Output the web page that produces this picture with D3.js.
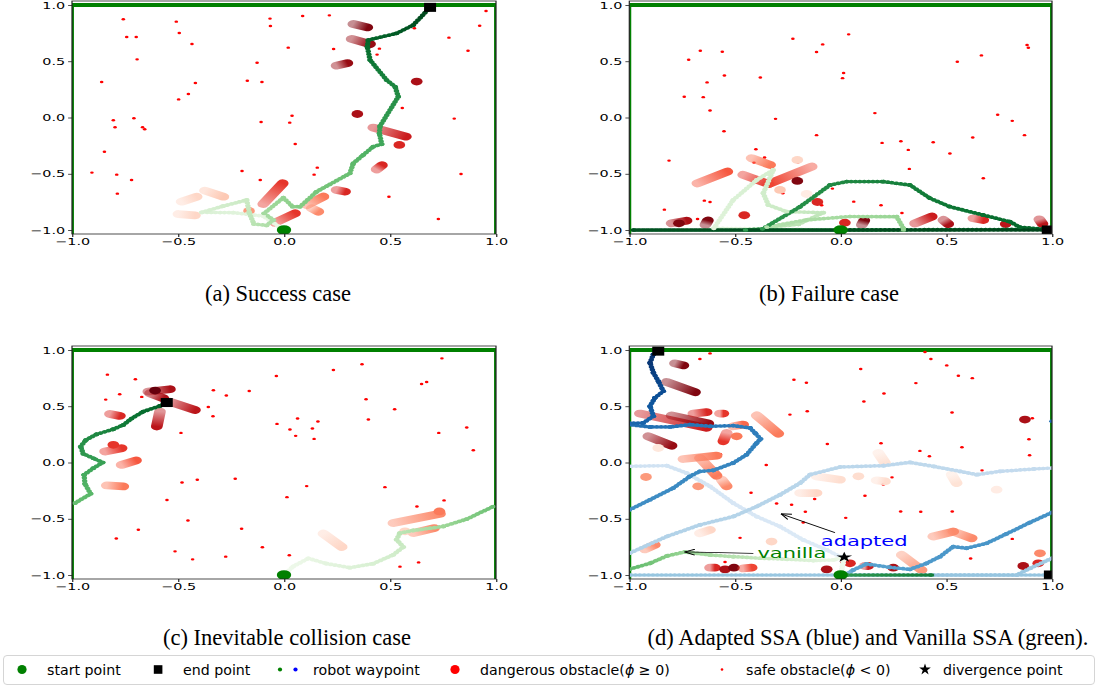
<!DOCTYPE html>
<html><head><meta charset="utf-8">
<script src="https://cdn.jsdelivr.net/npm/d3@7"></script>
<style>body{margin:0;background:#fff;} svg{display:block;}</style>
</head><body>
<svg id="c" width="1098" height="687"></svg>
<script>
// ---------------- DATA ----------------
const xTicks = [-1, -0.5, 0, 0.5, 1];
const yTicks = [-1, -0.5, 0, 0.5, 1];
const captions = ["(a) Success case", "(b) Failure case", "(c) Inevitable collision case", "(d) Adapted SSA (blue) and Vanilla SSA (green)."];
const legendLabels = ["start point", "end point", "robot waypoint", "dangerous obstacle(", "safe obstacle(", "divergence point"];

// safe obstacles [x, y]
const safeA = [[-0.758,0.873],[-0.508,0.852],[-0.066,0.879],[0.088,0.902],[0.214,0.908],[0.953,0.947],[0.923,0.816],[0.615,0.793],[-0.742,0.716],[-0.697,0.716],[-0.494,0.751],[-0.064,0.813],[-0.434,0.653],[0.020,0.621],[0.234,0.609],[0.450,0.612],[0.778,0.710],[0.868,0.594],[0.439,0.559],[-0.693,0.517],[-0.127,0.487],[-0.860,0.316],[-0.418,0.307],[-0.173,0.327],[-0.104,0.316],[-0.451,0.209],[-0.497,0.161],[0.558,0.084],[-0.805,-0.025],[-0.708,-0.007],[-0.797,-0.087],[-0.667,-0.087],[-0.657,-0.105],[0.038,0.016],[-0.108,-0.040],[0.027,-0.046],[0.803,-0.010],[0.053,-0.236],[-0.847,-0.304],[-0.906,-0.490],[-0.789,-0.508],[-0.198,-0.476],[0.157,-0.446],[0.142,-0.508],[0.835,-0.502],[-0.719,-0.556],[-0.112,-0.556],[-0.786,-0.677],[0.495,-0.704],[0.728,-0.902]];
const safeB = [[0.038,0.739],[-0.226,0.700],[-0.085,0.650],[-0.664,0.593],[-0.560,0.585],[-0.114,0.582],[-0.719,0.513],[0.552,0.496],[0.666,0.552],[0.882,0.644],[0.888,0.620],[-0.550,0.374],[0.014,0.395],[0.009,0.350],[-0.380,0.356],[-0.632,0.312],[-0.740,0.184],[-0.650,0.181],[-0.618,0.062],[-0.308,-0.012],[0.162,0.039],[0.743,0.024],[0.812,-0.030],[-0.552,-0.122],[-0.114,-0.157],[0.625,-0.178],[0.870,-0.157],[0.196,-0.226],[0.285,-0.211],[0.320,-0.288],[0.438,-0.220],[0.517,-0.320],[-0.401,-0.282],[-0.360,-0.356],[-0.812,-0.383],[-0.202,-0.398],[0.325,-0.457],[0.675,-0.540],[-0.274,-0.674],[-0.039,-0.632],[-0.090,-0.780],[-0.645,-0.739],[-0.618,-0.751],[0.062,-0.748],[0.191,-0.780],[-0.834,-0.819],[-0.677,-0.902],[0.290,-0.849],[-0.410,-0.401]];
const safeC = [[0.745,0.926],[0.368,0.873],[0.233,0.822],[-0.833,0.781],[-0.701,0.740],[-0.036,0.769],[0.673,0.716],[0.649,0.698],[-0.775,0.607],[-0.841,0.559],[-0.671,0.583],[-0.333,0.642],[-0.272,0.595],[-0.164,0.636],[0.387,0.562],[0.522,0.473],[-0.357,0.494],[-0.335,0.411],[0.064,0.391],[0.160,0.364],[0.398,0.382],[-0.033,0.343],[0.134,0.302],[0.028,0.293],[0.730,0.263],[0.862,0.311],[0.055,0.237],[0.142,0.210],[-0.486,0.263],[0.893,0.109],[-0.409,-0.154],[-0.230,-0.145],[-0.481,-0.178],[0.107,-0.210],[0.476,-0.219],[0.014,-0.308],[-0.552,-0.334],[0.755,-0.337],[0.627,-0.391],[-0.453,-0.515],[-0.687,-0.598],[-0.200,-0.589],[-0.791,-0.675],[-0.102,-0.754],[-0.514,-0.790],[-0.275,-0.837],[0.025,-0.825],[-0.431,-0.861],[0.635,-0.888],[0.547,-0.926]];
const safeD = [[-0.618,0.970],[-0.666,0.920],[0.399,0.982],[0.427,0.920],[0.502,0.863],[0.095,0.831],[0.557,0.771],[0.623,0.750],[-0.221,0.736],[-0.162,0.709],[0.356,0.706],[0.205,0.614],[0.110,0.542],[-0.158,0.456],[-0.240,0.426],[0.527,0.444],[0.907,0.394],[0.891,0.207],[0.894,0.064],[0.574,0.135],[0.375,0.103],[0.420,0.055],[0.191,0.171],[-0.063,0.165],[-0.569,0.073],[-0.352,-0.022],[0.669,-0.070],[0.243,-0.132],[0.202,-0.195],[-0.424,-0.269],[0.115,-0.296],[-0.123,-0.325],[-0.303,-0.364],[-0.232,-0.376],[-0.167,-0.438],[0.024,-0.492],[0.284,-0.435],[0.379,-0.438],[0.528,-0.435],[-0.177,-0.533],[-0.476,-0.670],[0.789,-0.634],[0.812,-0.679],[0.615,-0.854],[-0.547,-0.884],[0.006,-0.890]];

// dangerous obstacle trails [x_old, y_old, x_new, y_new, phiLevel]
const dangerA = [[0.327,0.831,0.393,0.801,0.95],[0.319,0.698,0.406,0.653,0.9],[0.248,0.461,0.299,0.484,0.9],[0.626,0.319,0.626,0.319,0.85],[0.346,0.031,0.346,0.031,0.85],[0.421,-0.090,0.575,-0.170,0.75],[0.544,-0.244,0.544,-0.244,0.7],[0.437,-0.461,0.462,-0.425,0.7],[0.248,-0.644,0.288,-0.659,0.7],[-0.098,-0.769,-0.006,-0.585,0.65],[-0.042,-0.935,0.052,-0.852,0.65],[0.107,-0.778,0.186,-0.704,0.45],[0.131,-0.807,0.162,-0.837,0.4],[-0.165,-0.831,-0.165,-0.831,0.35],[-0.373,-0.650,-0.286,-0.704,0.2],[-0.483,-0.748,-0.412,-0.704,0.15],[-0.498,-0.858,-0.420,-0.870,0.15]];
const dangerB = [[-0.461,-0.510,-0.342,-0.591,0.65],[-0.137,-0.436,-0.334,-0.585,0.6],[-0.421,-0.362,-0.334,-0.421,0.45],[-0.678,-0.585,-0.536,-0.481,0.55],[-0.205,-0.564,-0.205,-0.564,0.95],[-0.205,-0.377,-0.205,-0.377,0.15],[-0.287,-0.644,-0.287,-0.644,0.2],[-0.161,-0.680,-0.161,-0.680,0.05],[-0.110,-0.751,-0.110,-0.751,0.7],[-0.456,-0.869,-0.456,-0.869,0.7],[-0.800,-0.941,-0.729,-0.917,0.85],[-0.765,-0.941,-0.765,-0.941,0.95],[-0.640,-0.955,-0.628,-0.915,0.95],[0.020,-0.935,0.020,-0.935,0.7],[0.100,-0.955,0.112,-0.915,0.95],[0.352,-0.941,0.431,-0.881,0.75],[0.486,-0.911,0.509,-0.947,0.85],[0.628,-0.896,0.675,-0.911,0.7],[0.781,-0.947,0.781,-0.947,0.8],[0.940,-0.905,0.955,-0.945,0.8]];
const dangerC = [[-0.640,0.630,-0.538,0.651,0.85],[-0.632,0.615,-0.569,0.571,0.85],[-0.608,0.639,-0.608,0.639,1.0],[-0.538,0.541,-0.420,0.467,0.8],[-0.585,0.453,-0.600,0.320,0.8],[-0.821,0.432,-0.774,0.414,0.7],[-0.844,0.098,-0.766,0.127,0.65],[-0.805,0.157,-0.805,0.157,0.65],[-0.766,-0.021,-0.698,0.018,0.55],[-0.836,-0.204,-0.758,-0.213,0.45],[0.516,-0.538,0.736,-0.456,0.4],[0.733,-0.435,0.733,-0.435,0.45],[0.610,-0.627,0.708,-0.583,0.4],[0.571,-0.612,0.571,-0.612,0.15],[0.186,-0.633,0.272,-0.751,0.15]];
const dangerD = [[-0.784,0.881,-0.744,0.863,0.95],[-0.823,0.715,-0.689,0.626,0.95],[-0.950,0.435,-0.634,0.308,0.75],[-0.800,0.418,-0.626,0.346,0.9],[-0.697,0.435,-0.634,0.447,0.7],[-0.571,0.435,-0.555,0.435,0.65],[-0.508,0.322,-0.461,0.337,0.5],[-0.539,0.263,-0.555,0.189,0.65],[-0.492,0.233,-0.492,0.233,0.45],[-0.397,0.418,-0.295,0.257,0.45],[-0.910,0.233,-0.800,0.150,0.9],[-0.863,0.129,-0.863,0.129,0.08],[-0.744,0.031,-0.587,0.061,0.45],[-0.666,0.040,-0.587,-0.117,0.45],[-0.563,-0.153,-0.539,-0.212,0.4],[-0.674,-0.212,-0.674,-0.212,0.35],[-0.921,-0.129,-0.921,-0.129,0.35],[-0.926,-0.771,-0.879,-0.732,0.4],[-0.666,-0.629,-0.618,-0.599,0.15],[-0.327,-0.703,-0.327,-0.703,0.15],[-0.192,-0.272,-0.114,-0.272,0.15],[-0.114,-0.123,-0.003,-0.153,0.12],[0.084,-0.123,0.084,-0.123,0.12],[0.170,-0.159,0.210,-0.168,0.12],[0.178,0.085,0.210,-0.004,0.1],[0.525,-0.108,0.549,-0.183,0.1],[0.738,-0.242,0.738,-0.242,0.05],[0.438,-0.658,0.533,-0.614,0.4],[0.533,-0.614,0.620,-0.673,0.4],[0.289,-0.822,0.383,-0.956,0.35],[0.943,-0.807,0.943,-0.807,0.4],[0.864,-0.920,0.864,-0.920,0.85],[0.935,-0.896,0.935,-0.896,0.7],[0.872,0.382,0.872,0.382,0.85],[-0.618,-0.935,-0.595,-0.935,0.7],[-0.547,-0.950,-0.547,-0.950,0.85],[-0.505,-0.935,-0.505,-0.935,0.95],[-0.461,-0.941,-0.421,-0.935,0.6],[-0.066,-0.950,-0.066,-0.950,0.85],[0.044,-0.896,0.044,-0.896,0.7],[0.115,-0.920,0.130,-0.920,0.75],[0.249,-0.935,0.249,-0.935,0.85]];

// robot waypoints [x, y, step]; null = robot passed through a side boundary (no connecting line)
const trajA = [[0,-1,0],[-0.098,-0.876,3],[-0.239,-0.846,6],[-0.388,-0.843,9],[-0.286,-0.787,12],[-0.176,-0.733,15],[-0.163,-0.852,18],[-0.142,-0.947,21],[-0.082,-0.959,24],[-0.05,-0.911,26],[-0.094,-0.852,28],[-0.003,-0.713,32],[0.041,-0.793,35],[0.075,-0.793,37],[0.154,-0.659,40],[0.311,-0.496,44],[0.327,-0.407,47],[0.374,-0.333,50],[0.421,-0.259,53],[0.461,-0.236,55],[0.45,-0.141,57],[0.453,-0.076,59],[0.539,0.185,66],[0.524,0.274,68],[0.484,0.333,70],[0.406,0.511,75],[0.393,0.63,78],[0.398,0.689,80],[0.531,0.748,84],[0.61,0.822,87],[0.689,0.979,91]];
const trajB = [[0,-1,0],[-0.6,-0.985,8],[-0.508,-0.733,12],[-0.397,-0.555,15],[-0.319,-0.466,17],[-0.366,-0.674,20],[-0.342,-0.778,22],[-0.255,-0.837,25],[-0.082,-0.846,30],[-0.2,-0.95,35],[-0.35,-0.975,40],[-0.161,-0.911,45],[0.044,-0.88,50],[0.265,-0.882,56],[0.297,-0.985,60],[0.297,-1,61],[-0.45,-1,110],[-0.37,-0.99,115],[-0.192,-0.793,120],[-0.05,-0.6,124],[0.029,-0.57,126],[0.202,-0.57,130],[0.328,-0.6,133],[0.423,-0.718,136],[0.517,-0.793,139],[0.675,-0.867,143],[0.801,-0.926,146],[0.849,-0.976,148],[0.975,-0.994,150],[0.0,-1,156],[-0.98,-1,162],[0.0,-1,166],[0.98,-1,170]];
const trajC = [[0,-1,0],[0.044,-0.923,3],[0.115,-0.852,6],[0.201,-0.899,9],[0.311,-0.935,12],[0.421,-0.899,15],[0.516,-0.82,18],[0.563,-0.751,21],[0.531,-0.686,24],[0.547,-0.627,27],[0.61,-0.604,30],[0.752,-0.568,38],[0.862,-0.503,45],[0.987,-0.391,52],null,[-0.986,-0.361,54],[-0.912,-0.278,58],[-0.939,-0.189,61],[-0.943,-0.109,64],[-0.899,-0.05,67],[-0.855,0.0,69],[-0.899,0.038,71],[-0.947,0.077,73],[-0.959,0.142,75],[-0.934,0.201,77],[-0.884,0.251,80],[-0.805,0.296,83],[-0.758,0.334,85],[-0.719,0.391,88],[-0.664,0.453,91],[-0.585,0.503,95],[-0.557,0.533,97]];
const trajDAdapted = [[0,-1,0],[0.017,-0.842,2],[-0.003,-0.837,4],[-0.066,-0.777,6],[-0.177,-0.688,8],[-0.287,-0.569,10],[-0.397,-0.48,12],[-0.508,-0.361,14],[-0.618,-0.212,16],[-0.729,-0.094,18],[-0.823,-0.028,20],[-1.0,-0.034,22],null,
 [1.0,-0.049,32],[0.912,-0.058,33],[0.754,-0.079,34],[0.644,-0.108,35],[0.565,-0.079,36],[0.438,-0.034,37],[0.328,0.001,38],[0.202,-0.028,39],[-0.003,-0.04,40],[-0.145,-0.108,41],[-0.192,-0.183,42],[-0.287,-0.287,43],[-0.397,-0.391,44],[-0.508,-0.48,45],[-0.666,-0.554,46],[-0.823,-0.658,47],[-1.0,-0.807,48],null,
 [1.0,-0.851,58],[0.896,-0.941,60],[0.833,-1.0,62],[0.0,-1.0,63],[-1.0,-1.0,64],null,[1.0,-1.0,65],[0.02,-1.0,66],
 [0.06,-0.955,100],[0.123,-0.902,102],[0.233,-0.932,104],[0.328,-0.95,106],[0.407,-0.896,108],[0.47,-0.837,110],[0.533,-0.747,111],[0.596,-0.762,112],[0.691,-0.718,113],[0.785,-0.634,114],[0.896,-0.533,115],[1.0,-0.444,116],null,
 [-1.0,-0.421,118],[-0.902,-0.331,120],[-0.792,-0.227,122],[-0.713,-0.123,124],[-0.666,-0.079,125],[-0.603,-0.07,126],[-0.508,-0.004,128],[-0.445,0.07,130],[-0.397,0.174,132],[-0.379,0.21,133],[-0.405,0.263,134],[-0.429,0.308,135],[-0.508,0.328,137],[-0.618,0.322,139],[-0.713,0.337,141],[-0.808,0.316,143],[-0.902,0.316,145],[-1.0,0.337,147],null,
 [1.0,0.367,150],null,[-1.0,0.35,152],[-0.934,0.352,156],[-0.886,0.412,160],[-0.902,0.501,166],[-0.879,0.575,172],[-0.839,0.634,176],[-0.863,0.724,182],[-0.886,0.798,188],[-0.902,0.887,194],[-0.886,0.961,198],[-0.863,0.991,200]];
const trajDVanilla = [[0,-1,0],[0.017,-0.842,5],[-0.035,-0.866,10],[-0.129,-0.872,20],[-0.256,-0.86,30],[-0.382,-0.851,40],[-0.508,-0.837,50],[-0.618,-0.822,60],[-0.737,-0.795,70],[-0.823,-0.831,80],[-0.902,-0.896,90],[-1.0,-0.949,100],null,[0.03,-1,130],[0.43,-1,150]];

const startA = [[0,-1]], startB = [[0,-1]], startC = [[0,-1]], startD = [[0,-1]];
const endA = [[0.689,0.979]], endB = [[0.98,-1]], endC = [[-0.553,0.533]], endD = [[-0.863,0.99],[0.99,-1]];
const divergenceD = [[0.017,-0.842]];

// ---------------- DRAWING ----------------
const svg = d3.select('#c');
const defs = svg.append('defs');
const SX = 1.5;          // horizontal stretch of the embedded subplot images
const YLIM = 1.0356;
let gid = 0;

defs.append('marker').attr('id','arrowHead').attr('viewBox','0 0 10 10').attr('refX',9.5).attr('refY',5)
  .attr('markerUnits','userSpaceOnUse').attr('markerWidth',7).attr('markerHeight',7).attr('orient','auto')
  .append('path').attr('d','M0,0.8 L9.5,5 L0,9.2').attr('fill','none').attr('stroke','#000').attr('stroke-width',1.3);

const panels = [
  {x:72, y:1, w:424, h:233, safe:safeA, danger:dangerA, trajs:[{pts:trajA, cmap:d3.interpolateGreens, lo:0.08, hi:1.0}], starts:startA, ends:endA},
  {x:629.3, y:1, w:422.7, h:233, safe:safeB, danger:dangerB, trajs:[{pts:trajB, cmap:d3.interpolateGreens, lo:0.1, hi:1.0}], starts:startB, ends:endB},
  {x:72, y:346, w:424, h:233, safe:safeC, danger:dangerC, trajs:[{pts:trajC, cmap:d3.interpolateGreens, lo:0.04, hi:0.92}], starts:startC, ends:endC},
  {x:629.3, y:346, w:422.7, h:233, safe:safeD, danger:dangerD, trajs:[{pts:trajDAdapted, cmap:d3.interpolateBlues, lo:0.1, hi:1.0},{pts:trajDVanilla, cmap:d3.interpolateGreens, lo:0.05, hi:0.8}], starts:startD, ends:endD, stars:divergenceD, annot:true}
];

panels.forEach((p, idx) => {
  const iw = p.w / SX, ih = p.h;
  const x = d3.scaleLinear().domain([-1, 1]).range([0, iw]);
  const y = d3.scaleLinear().domain([-YLIM, YLIM]).range([ih, 0]);
  const g = svg.append('g').attr('transform', `translate(${p.x},${p.y}) scale(${SX},1)`);
  const cid = 'clip' + idx;
  defs.append('clipPath').attr('id', cid).append('rect').attr('width', iw).attr('height', ih);
  const pg = g.append('g').attr('clip-path', `url(#${cid})`);

  // environment boundary
  const bnd = pg.append('g').attr('stroke', '#008000').attr('fill', 'none');
  bnd.append('line').attr('x1', x(-1)).attr('x2', x(1)).attr('y1', y(1)).attr('y2', y(1)).attr('stroke-width', 3.8);
  bnd.append('line').attr('x1', x(-1)).attr('x2', x(-1)).attr('y1', y(1)).attr('y2', y(-1.1)).attr('stroke-width', 2.6);
  bnd.append('line').attr('x1', x(1)).attr('x2', x(1)).attr('y1', y(1)).attr('y2', y(-1.1)).attr('stroke-width', 2.6);

  // safe obstacles
  pg.append('g').selectAll('circle').data(p.safe).join('circle')
    .attr('cx', d => x(d[0])).attr('cy', d => y(d[1])).attr('r', 1.2).attr('fill', '#ff0000');

  // dangerous obstacle trails
  const dg = pg.append('g');
  p.danger.forEach(d => {
    const col = d3.interpolateReds(d[4]);
    if (d[0] === d[2] && d[1] === d[3]) {
      dg.append('circle').attr('cx', x(d[0])).attr('cy', y(d[1])).attr('r', 3.9).attr('fill', col);
    } else {
      const id = 'tg' + (gid++);
      const lg = defs.append('linearGradient').attr('id', id).attr('gradientUnits', 'userSpaceOnUse')
        .attr('x1', x(d[0])).attr('y1', y(d[1])).attr('x2', x(d[2])).attr('y2', y(d[3]));
      lg.append('stop').attr('offset', 0).attr('stop-color', col).attr('stop-opacity', 0.45);
      lg.append('stop').attr('offset', 1).attr('stop-color', col).attr('stop-opacity', 1);
      dg.append('line').attr('x1', x(d[0])).attr('y1', y(d[1])).attr('x2', x(d[2])).attr('y2', y(d[3]))
        .attr('stroke', `url(#${id})`).attr('stroke-width', 7.8).attr('stroke-linecap', 'round');
    }
  });

  // robot trajectories
  p.trajs.forEach(t => {
    const valid = t.pts.filter(d => d);
    const maxS = d3.max(valid, d => d[2]);
    const color = s => t.cmap(t.lo + (t.hi - t.lo) * s / maxS);
    const tg = pg.append('g');
    for (let i = 0; i < t.pts.length - 1; i++) {
      const a = t.pts[i], b = t.pts[i + 1];
      if (!a || !b) continue; // wrap-around through the side boundary
      const id = 'rg' + (gid++);
      const lg = defs.append('linearGradient').attr('id', id).attr('gradientUnits', 'userSpaceOnUse')
        .attr('x1', x(a[0])).attr('y1', y(a[1])).attr('x2', x(b[0])).attr('y2', y(b[1]));
      lg.append('stop').attr('offset', 0).attr('stop-color', color(a[2]));
      lg.append('stop').attr('offset', 1).attr('stop-color', color(b[2]));
      tg.append('line').attr('x1', x(a[0])).attr('y1', y(a[1])).attr('x2', x(b[0])).attr('y2', y(b[1]))
        .attr('stroke', `url(#${id})`).attr('stroke-width', 3.7).attr('stroke-linecap', 'round')
        .attr('stroke-dasharray', '0.01 2.9');
    }
    tg.selectAll('circle').data(valid).join('circle')
      .attr('cx', d => x(d[0])).attr('cy', d => y(d[1])).attr('r', 1.85).attr('fill', d => color(d[2]));
  });

  // start / end markers
  pg.append('g').selectAll('circle').data(p.starts).join('circle')
    .attr('cx', d => x(d[0])).attr('cy', d => y(d[1])).attr('r', 4.8).attr('fill', '#008000');
  pg.append('g').selectAll('rect').data(p.ends).join('rect')
    .attr('x', d => x(d[0]) - 4).attr('y', d => y(d[1]) - 4.5).attr('width', 8).attr('height', 9).attr('fill', '#000');
  if (p.stars) {
    pg.append('g').selectAll('path').data(p.stars).join('path')
      .attr('transform', d => `translate(${x(d[0])},${y(d[1])})`)
      .attr('d', d3.symbol().type(d3.symbolStar).size(34)).attr('fill', '#000');
  }
  if (p.annot) {
    g.append('line').attr('x1', x(-0.027)).attr('y1', y(-0.623)).attr('x2', x(-0.282)).attr('y2', y(-0.456))
      .attr('stroke', '#000').attr('stroke-width', 0.8).attr('marker-end', 'url(#arrowHead)');
    g.append('line').attr('x1', x(-0.413)).attr('y1', y(-0.807)).attr('x2', x(-0.737)).attr('y2', y(-0.795))
      .attr('stroke', '#000').attr('stroke-width', 0.8).attr('marker-end', 'url(#arrowHead)');
    g.append('text').attr('x', x(-0.094)).attr('y', y(-0.746)).attr('font-family', 'DejaVu Sans')
      .attr('font-size', 14).attr('fill', '#0000ff').text('adapted');
    g.append('text').attr('x', x(-0.394)).attr('y', y(-0.847)).attr('font-family', 'DejaVu Sans')
      .attr('font-size', 14).attr('fill', '#008000').text('vanilla');
  }

  // spines
  g.append('rect').attr('width', iw).attr('height', ih).attr('fill', 'none').attr('stroke', '#222').attr('stroke-width', 0.8);

  // axes
  const fmt = d3.format('.1f');
  const ax = g.append('g').attr('transform', `translate(0,${ih})`)
    .call(d3.axisBottom(x).tickValues(xTicks).tickFormat(fmt).tickSize(3).tickPadding(1.2));
  const ay = g.append('g').call(d3.axisLeft(y).tickValues(yTicks).tickFormat(fmt).tickSize(2.6).tickPadding(2.0));
  [ax, ay].forEach(a => {
    a.select('.domain').remove();
    a.attr('font-family', 'DejaVu Sans').attr('font-size', 9.6);
    a.selectAll('line').attr('stroke', '#222').attr('stroke-width', 0.8);
    a.selectAll('text').attr('fill', '#000');
  });
});

// captions
const capPos = [[278, 301], [829, 301], [287, 645], [868, 645]];
captions.forEach((c, i) => {
  svg.append('text').attr('x', capPos[i][0]).attr('y', capPos[i][1]).attr('text-anchor', 'middle')
    .attr('font-family', '"Liberation Serif", "Times New Roman", serif').attr('font-size', 22.5).attr('fill', '#000').text(c);
});

// legend
const lg = svg.append('g');
lg.append('rect').attr('x', 3.5).attr('y', 655.5).attr('width', 1091).attr('height', 29).attr('rx', 3.5)
  .attr('fill', '#fff').attr('stroke', '#d5d5d5').attr('stroke-width', 1);
const ly = 669.5;
lg.append('circle').attr('cx', 22).attr('cy', ly).attr('r', 4.6).attr('fill', '#008000');
lg.append('rect').attr('x', 153.8).attr('y', ly - 4.3).attr('width', 8.6).attr('height', 8.6).attr('fill', '#000');
lg.append('circle').attr('cx', 280).attr('cy', ly).attr('r', 2.1).attr('fill', '#008000');
lg.append('circle').attr('cx', 295.5).attr('cy', ly).attr('r', 2.1).attr('fill', '#0000ff');
lg.append('circle').attr('cx', 455).attr('cy', ly).attr('r', 4.6).attr('fill', '#ff0000');
lg.append('circle').attr('cx', 722).attr('cy', ly).attr('r', 1.3).attr('fill', '#ff0000');
lg.append('path').attr('transform', `translate(925,${ly})`).attr('d', d3.symbol().type(d3.symbolStar).size(42)).attr('fill', '#000');
const lt = (xp) => lg.append('text').attr('x', xp).attr('y', ly + 5).attr('font-family', 'DejaVu Sans').attr('font-size', 14.2).attr('fill', '#000');
lt(47).text(legendLabels[0]);
lt(183).text(legendLabels[1]);
lt(313).text(legendLabels[2]);
const t4 = lt(480); t4.append('tspan').text(legendLabels[3]); t4.append('tspan').attr('font-style', 'italic').text('ϕ'); t4.append('tspan').text(' ≥ 0)');
const t5 = lt(746); t5.append('tspan').text(legendLabels[4]); t5.append('tspan').attr('font-style', 'italic').text('ϕ'); t5.append('tspan').text(' < 0)');
lt(943).text(legendLabels[5]);
</script>
</body></html>
